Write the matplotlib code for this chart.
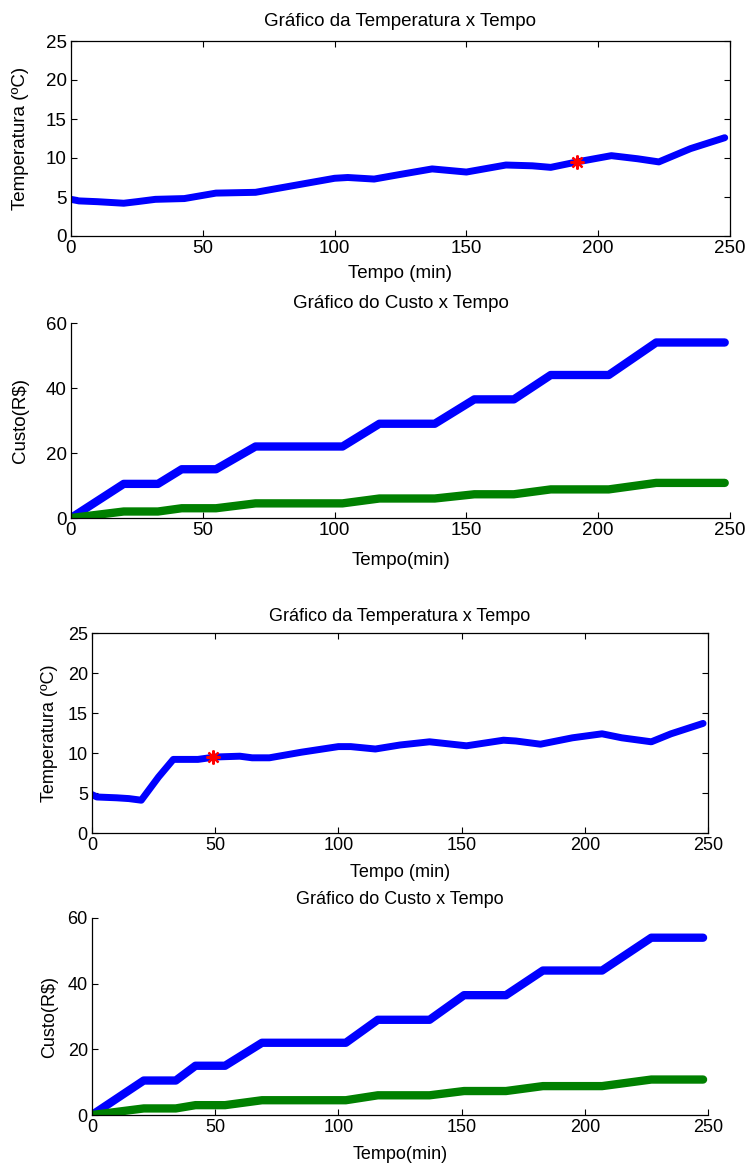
import matplotlib
matplotlib.use("Agg")
import matplotlib.pyplot as plt

# ---- data ----
t_temp1 = [0, 3, 10, 20, 25, 32, 43, 55, 70, 85, 100, 105, 115, 125, 137, 150, 165, 175, 182, 192, 205, 215, 223, 235, 248]
temp1 = [4.7, 4.5, 4.4, 4.2, 4.4, 4.7, 4.8, 5.5, 5.6, 6.5, 7.4, 7.5, 7.3, 7.9, 8.6, 8.2, 9.1, 9.0, 8.8, 9.5, 10.3, 9.9, 9.5, 11.2, 12.6]
star1 = (192, 9.5)

t_cost1 = [0, 20, 33, 42, 55, 70, 103, 117, 138, 153, 168, 182, 204, 222, 248]
cost_blue1 = [0, 10.5, 10.5, 15, 15, 22, 22, 29, 29, 36.5, 36.5, 44, 44, 54, 54]
cost_green1 = [0, 2, 2, 3, 3, 4.5, 4.5, 6, 6, 7.3, 7.3, 8.8, 8.8, 10.8, 10.8]

t_temp2 = [0, 2, 10, 15, 20, 27, 33, 43, 50, 60, 65, 72, 85, 100, 105, 115, 125, 137, 152, 167, 172, 182, 195, 207, 215, 227, 235, 248]
temp2 = [4.8, 4.5, 4.4, 4.3, 4.1, 7.0, 9.2, 9.2, 9.5, 9.6, 9.4, 9.4, 10.1, 10.8, 10.8, 10.5, 11.0, 11.4, 10.9, 11.6, 11.5, 11.1, 11.9, 12.4, 11.9, 11.4, 12.4, 13.7]
star2 = (49, 9.5)

t_cost2 = [0, 21, 34, 42, 54, 69, 103, 116, 137, 151, 168, 183, 207, 227, 248]
cost_blue2 = [0, 10.5, 10.5, 15, 15, 22, 22, 29, 29, 36.5, 36.5, 44, 44, 54, 54]
cost_green2 = [0, 2, 2, 3, 3, 4.5, 4.5, 6, 6, 7.3, 7.3, 8.8, 8.8, 10.8, 10.8]

x_ticks = [0, 50, 100, 150, 200, 250]
temp_ticks = [0, 5, 10, 15, 20, 25]
cost_ticks = [0, 20, 40, 60]

title_temp = "Gráfico da Temperatura x Tempo"
title_cost = "Gráfico do Custo x Tempo"

BLUE = (0, 0, 1)
GREEN = (0, 0.5, 0)
W, H = 746, 1166

fig = plt.figure(figsize=(W / 100, H / 100), dpi=100)
plt.rcParams['font.family'] = ['Liberation Sans', 'DejaVu Sans']

def ax_at(l, t, r, b):
    return fig.add_axes([l / W, 1 - b / H, (r - l) / W, (b - t) / H])

def style(ax, box, fs):
    ax.tick_params(direction='in', length=4, labelsize=fs, width=0.8, pad=3)
    if box:
        ax.tick_params(top=True, right=True)
    else:
        ax.spines['top'].set_visible(False)
        ax.spines['right'].set_visible(False)
    for s in ax.spines.values():
        s.set_linewidth(0.9)

def temp_panel(ax, t, y, star, fs, tpad, xpad, ypad):
    ax.plot(t, y, color=BLUE, lw=5, solid_capstyle='round', solid_joinstyle='round')
    ax.plot([star[0]], [star[1]], marker=(8, 2, 0), color='red', ms=10, mew=1.6, mec='red')
    ax.set_xlim(0, 250)
    ax.set_ylim(0, 25)
    ax.set_xticks(x_ticks)
    ax.set_yticks(temp_ticks)
    ax.set_title(title_temp, fontsize=fs, pad=tpad)
    ax.set_xlabel("Tempo (min)", fontsize=fs, labelpad=xpad)
    ax.set_ylabel("Temperatura (ºC)", fontsize=fs, labelpad=ypad)
    style(ax, True, fs)

def cost_panel(ax, t, yb, yg, fs, tpad, xpad, ypad):
    ax.plot(t, yb, color=BLUE, lw=6, solid_capstyle='round', solid_joinstyle='round')
    ax.plot(t, yg, color=GREEN, lw=6, solid_capstyle='round', solid_joinstyle='round')
    ax.set_xlim(0, 250)
    ax.set_ylim(0, 60)
    ax.set_xticks(x_ticks)
    ax.set_yticks(cost_ticks)
    ax.set_title(title_cost, fontsize=fs, pad=tpad)
    ax.set_xlabel("Tempo(min)", fontsize=fs, labelpad=xpad)
    ax.set_ylabel("Custo(R$)", fontsize=fs, labelpad=ypad)
    style(ax, False, fs)

ax1 = ax_at(71, 41, 730, 236)
temp_panel(ax1, t_temp1, temp1, star1, 13.5, 11, 6, 12)

ax2 = ax_at(71, 323, 730, 518)
cost_panel(ax2, t_cost1, cost_blue1, cost_green1, 13.5, 10.5, 9, 12)

ax3 = ax_at(92, 633, 708, 833)
temp_panel(ax3, t_temp2, temp2, star2, 13, 8.5, 7, 7)

ax4 = ax_at(92, 918, 708, 1115)
cost_panel(ax4, t_cost2, cost_blue2, cost_green2, 13, 10, 7, 7)

fig.savefig("out.png", dpi=100)
